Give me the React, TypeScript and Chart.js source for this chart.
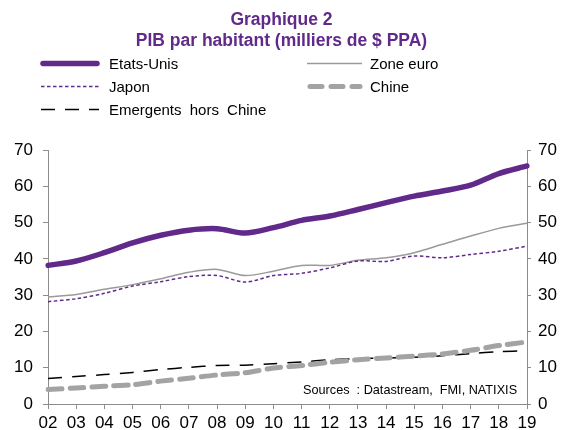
import React, { useEffect, useRef } from "react";
import { Chart, registerables } from "chart.js";

Chart.register(...registerables);

const years = ["02","03","04","05","06","07","08","09","10","11","12","13","14","15","16","17","18","19"];
const etatsUnis = [38.2,39.4,41.7,44.4,46.5,47.9,48.3,47.1,48.6,50.6,51.8,53.6,55.5,57.3,58.7,60.3,63.5,65.6];
const zoneEuro = [29.5,30.2,31.6,32.9,34.5,36.3,37.1,35.4,36.6,38.2,38.2,39.6,40.3,41.7,44.0,46.3,48.4,49.8];
const japon = [28.2,29.0,30.5,32.5,33.7,35.1,35.4,33.6,35.4,36.0,37.5,39.4,39.3,40.8,40.3,41.2,42.1,43.5];
const emergents = [7.0,7.6,8.1,8.7,9.5,10.1,10.6,10.7,11.1,11.6,12.2,12.5,12.7,12.9,13.3,13.9,14.4,14.7];
const chine = [4.0,4.4,4.9,5.3,6.3,7.1,8.0,8.6,9.9,10.6,11.5,12.2,12.7,13.2,13.8,14.8,16.1,17.1];

const PURPLE = "#612a8a";
const GREY = "#9a9a9a";
const CHINA_GREY = "#a3a3a3";
const FONT = "'Liberation Sans', Arial, sans-serif";

export default function App() {
  const ref = useRef<HTMLCanvasElement | null>(null);

  useEffect(() => {
    if (!ref.current) return;
    const chart = new Chart(ref.current, {
      type: "line",
      data: {
        labels: years,
        datasets: [
          { label: "Chine", data: chine, borderColor: CHINA_GREY, borderWidth: 5, borderDash: [14, 8], borderCapStyle: "round", pointRadius: 0, tension: 0.3, fill: false },
          { label: "Emergents hors Chine", data: emergents, borderColor: "#000", borderWidth: 1.5, borderDash: [14, 10], pointRadius: 0, tension: 0.3, fill: false },
          { label: "Japon", data: japon, borderColor: PURPLE, borderWidth: 1.5, borderDash: [3.5, 2.5], pointRadius: 0, tension: 0.3, fill: false },
          { label: "Zone euro", data: zoneEuro, borderColor: GREY, borderWidth: 1.5, pointRadius: 0, tension: 0.3, fill: false },
          { label: "Etats-Unis", data: etatsUnis, borderColor: PURPLE, borderWidth: 5.5, pointRadius: 0, tension: 0.3, fill: false, borderCapStyle: "round" },
        ],
      },
      options: {
        responsive: false,
        animation: false,
        layout: { padding: { top: 150, left: 0, right: 0, bottom: 0 } },
        plugins: { legend: { display: false }, title: { display: false }, tooltip: { enabled: false } },
        scales: {
          x: {
            offset: false,
            grid: { display: true, drawOnChartArea: false, drawTicks: true, tickLength: 5, color: "#8c8c8c", offset: false },
            border: { display: true, color: "#8c8c8c", width: 1 },
            ticks: { color: "#000", font: { family: FONT, size: 17 }, padding: 4, maxRotation: 0, autoSkip: false },
            afterFit: (s: any) => { s.height = 26; },
          },
          y: {
            position: "left",
            min: 0, max: 70,
            grid: { display: true, drawOnChartArea: false, drawTicks: true, tickLength: 5, color: "#8c8c8c" },
            border: { display: true, color: "#8c8c8c", width: 1 },
            ticks: { stepSize: 10, color: "#000", font: { family: FONT, size: 17 }, padding: 10 },
            afterFit: (s: any) => { s.width = 48; },
          },
          y2: {
            position: "right",
            min: 0, max: 70,
            grid: { display: true, drawOnChartArea: false, drawTicks: true, tickLength: 4, color: "#8c8c8c" },
            border: { display: true, color: "#8c8c8c", width: 1 },
            ticks: { stepSize: 10, color: "#000", font: { family: FONT, size: 17 }, padding: 7 },
            afterFit: (s: any) => { s.width = 36; },
          },
        },
      },
    });
    return () => chart.destroy();
  }, []);

  const textStyle: React.CSSProperties = { position: "absolute", fontFamily: FONT, fontSize: 15, color: "#000", lineHeight: "17px", whiteSpace: "nowrap" };
  const rows = [63.5, 86.5, 109.5];

  return (
    <div style={{ position: "absolute", left: 0, top: 0, width: 563, height: 430, background: "#fff", overflow: "hidden" }}>
      <canvas ref={ref} width={563} height={430} style={{ position: "absolute", left: 0, top: 0 }} />
      <div style={{ position: "absolute", left: 0, top: 9, width: 563, textAlign: "center", fontFamily: FONT, fontWeight: "bold", fontSize: 17.5, lineHeight: "21px", color: PURPLE }}>
        <div>Graphique 2</div>
        <div>PIB par habitant (milliers de $ PPA)</div>
      </div>
      <svg width={563} height={130} style={{ position: "absolute", left: 0, top: 0 }}>
        <line x1={43} y1={rows[0]} x2={97} y2={rows[0]} stroke={PURPLE} strokeWidth={5.5} strokeLinecap="round" />
        <line x1={41} y1={rows[1]} x2={99} y2={rows[1]} stroke={PURPLE} strokeWidth={1.5} strokeDasharray="3.5 2.5" />
        <line x1={41} y1={rows[2]} x2={99} y2={rows[2]} stroke="#000" strokeWidth={1.5} strokeDasharray="14 10" />
        <line x1={307} y1={rows[0]} x2={362} y2={rows[0]} stroke={GREY} strokeWidth={1.5} />
        <line x1={310} y1={rows[1]} x2={360} y2={rows[1]} stroke={CHINA_GREY} strokeWidth={5} strokeDasharray="12 9" strokeLinecap="round" />
      </svg>
      <div style={{ ...textStyle, left: 109, top: rows[0] - 9 }}>Etats-Unis</div>
      <div style={{ ...textStyle, left: 109, top: rows[1] - 9 }}>Japon</div>
      <div style={{ ...textStyle, left: 109, top: rows[2] - 9, wordSpacing: 4 }}>Emergents hors Chine</div>
      <div style={{ ...textStyle, left: 370, top: rows[0] - 9 }}>Zone euro</div>
      <div style={{ ...textStyle, left: 370, top: rows[1] - 9 }}>Chine</div>
      <div style={{ ...textStyle, left: 303, top: 383, fontSize: 12.7, lineHeight: "15px" }}>Sources&nbsp; : Datastream,&nbsp; FMI, NATIXIS</div>
    </div>
  );
}
